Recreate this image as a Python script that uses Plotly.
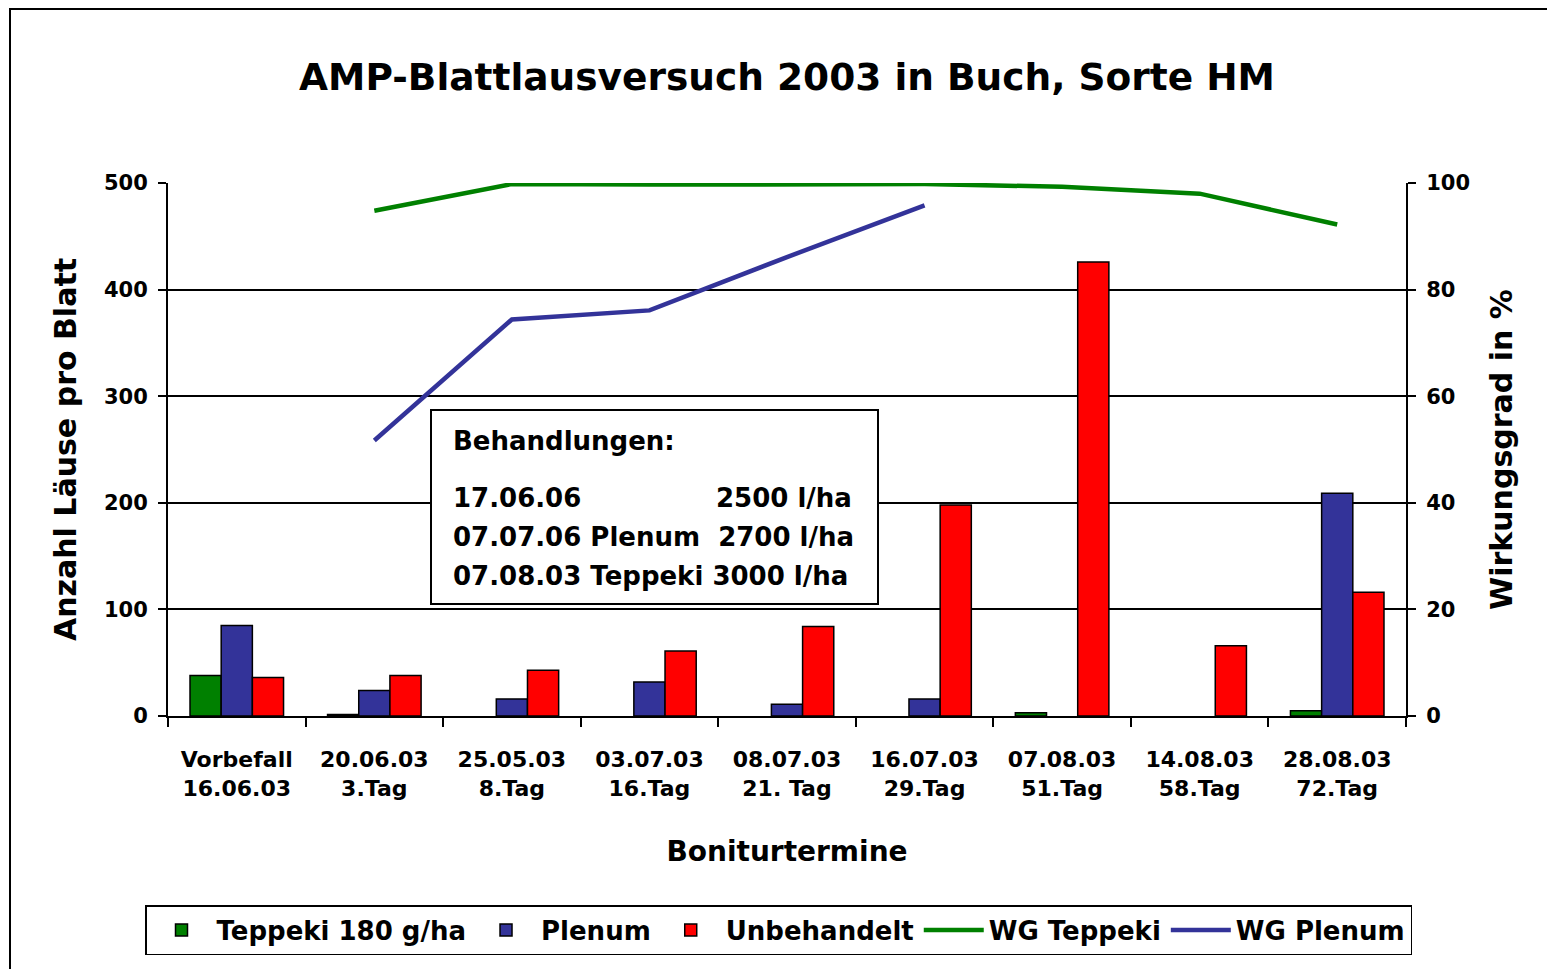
import plotly.graph_objects as go

# Boniturtermine (x categories)
termine = [
    "Vorbefall<br>16.06.03",
    "20.06.03<br>3.Tag",
    "25.05.03<br>8.Tag",
    "03.07.03<br>16.Tag",
    "08.07.03<br>21. Tag",
    "16.07.03<br>29.Tag",
    "07.08.03<br>51.Tag",
    "14.08.03<br>58.Tag",
    "28.08.03<br>72.Tag",
]

# Anzahl Läuse pro Blatt (None = no bar drawn)
teppeki = [38, 1.5, None, None, None, None, 3, None, 5]
plenum = [85, 24, 16, 32, 11, 16, None, None, 209]
unbehandelt = [36, 38, 43, 61, 84, 198, 426, 66, 116]

# Wirkungsgrad in %
wg_teppeki = [None, 94.8, 99.8, 99.7, 99.7, 99.8, 99.3, 98.0, 92.2]
wg_plenum = [None, 51.7, 74.4, 76.1, 86.1, 95.8, None, None, None]

GREEN = "#008000"
BLUE = "#333399"
RED = "#FF0000"
FONT = "DejaVu Sans"

# page body adds an 8px offset; figure is sized to fit the window
OFF = 8
W, H = 1555 - OFF, 969 - OFF
# plot area in window pixels
L, R, T, B = 168, 1406, 183, 716


def px_x(x):
    return (x - L) / (R - L)


def px_y(y):
    return (B - y) / (B - T)


fig = go.Figure()

bar_line = {"color": "black", "width": 1.5}
fig.add_trace(go.Bar(x=termine, y=teppeki, name="Teppeki 180 g/ha",
                     marker={"color": GREEN, "line": bar_line}))
fig.add_trace(go.Bar(x=termine, y=plenum, name="Plenum",
                     marker={"color": BLUE, "line": bar_line}))
fig.add_trace(go.Bar(x=termine, y=unbehandelt, name="Unbehandelt",
                     marker={"color": RED, "line": bar_line}))
fig.add_trace(go.Scatter(x=termine, y=wg_teppeki, name="WG Teppeki", yaxis="y2",
                         mode="lines", line={"color": GREEN, "width": 4.5}))
fig.add_trace(go.Scatter(x=termine, y=wg_plenum, name="WG Plenum", yaxis="y2",
                         mode="lines", line={"color": BLUE, "width": 4.5}))

fig.update_layout(
    width=W,
    height=H,
    margin={"l": L - OFF, "r": W - (R - OFF), "t": T - OFF, "b": H - (B - OFF),
            "autoexpand": False},
    paper_bgcolor="white",
    plot_bgcolor="white",
    font={"family": FONT, "color": "black", "weight": "bold"},
    barmode="group",
    bargap=0.32,
    bargroupgap=0,
    title={
        "text": "AMP-Blattlausversuch 2003 in Buch, Sorte HM",
        "font": {"size": 37.5, "family": FONT, "weight": "bold"},
        "x": 0.5, "xref": "paper", "xanchor": "center",
        "y": 1 - (77 - OFF) / H, "yref": "container", "yanchor": "middle",
    },
    xaxis={
        "type": "category",
        "showline": True, "linecolor": "black", "linewidth": 2,
        "ticks": "outside", "tickson": "boundaries", "ticklen": 9,
        "tickcolor": "black", "tickwidth": 1.5,
        "tickfont": {"size": 22},
        "ticklabelstandoff": 23,
        "showgrid": False,
        "title": {"text": "Boniturtermine", "font": {"size": 28}, "standoff": 41},
    },
    yaxis={
        "range": [0, 500], "dtick": 100,
        "showline": True, "linecolor": "black", "linewidth": 2,
        "ticks": "outside", "ticklen": 8, "tickcolor": "black", "tickwidth": 1.5,
        "showgrid": True, "gridcolor": "black", "gridwidth": 1.5,
        "zeroline": False,
        "tickfont": {"size": 21},
        "ticklabelstandoff": 6,
        "title": {"text": "Anzahl Läuse pro Blatt", "font": {"size": 30}, "standoff": 18},
    },
    yaxis2={
        "range": [0, 100], "dtick": 20,
        "overlaying": "y", "side": "right",
        "showline": True, "linecolor": "black", "linewidth": 2,
        "ticks": "outside", "ticklen": 8, "tickcolor": "black", "tickwidth": 1.5,
        "showgrid": False, "zeroline": False,
        "tickfont": {"size": 21},
        "ticklabelstandoff": 6,
        "title": {"text": "Wirkungsgrad in %", "font": {"size": 30}, "standoff": 22},
    },
    legend={
        "orientation": "h",
        "x": px_x(145), "xanchor": "left",
        "y": px_y(905), "yanchor": "top",
        "bordercolor": "black", "borderwidth": 1.5, "bgcolor": "white",
        "font": {"size": 26},
        "itemwidth": 60,
        "traceorder": "normal",
    },
    showlegend=True,
)

# outer chart-area frame (cropped in the reference)
fig.add_shape(type="rect", xref="paper", yref="paper",
              x0=px_x(10), x1=px_x(1600), y0=px_y(1000), y1=px_y(OFF + 1),
              line={"color": "black", "width": 2}, layer="below")

# "Behandlungen" text box
fig.add_shape(type="rect", xref="paper", yref="paper",
              x0=px_x(431), x1=px_x(878), y0=px_y(604), y1=px_y(410),
              line={"color": "black", "width": 2}, fillcolor="white", layer="above")

box_lines = [
    ("Behandlungen:", 451, 441),
    ("17.06.06", 451, 498),
    ("2500 l/ha", 714, 498),
    ("07.07.06 Plenum\u00a0 2700 l/ha", 451, 537),
    ("07.08.03 Teppeki 3000 l/ha", 451, 576),
]
for txt, x, y in box_lines:
    fig.add_annotation(text=txt, xref="paper", yref="paper",
                       x=px_x(x), y=px_y(y), xanchor="left", yanchor="middle",
                       showarrow=False, font={"size": 26, "family": FONT, "weight": "bold"})

fig.write_html("out.html")
